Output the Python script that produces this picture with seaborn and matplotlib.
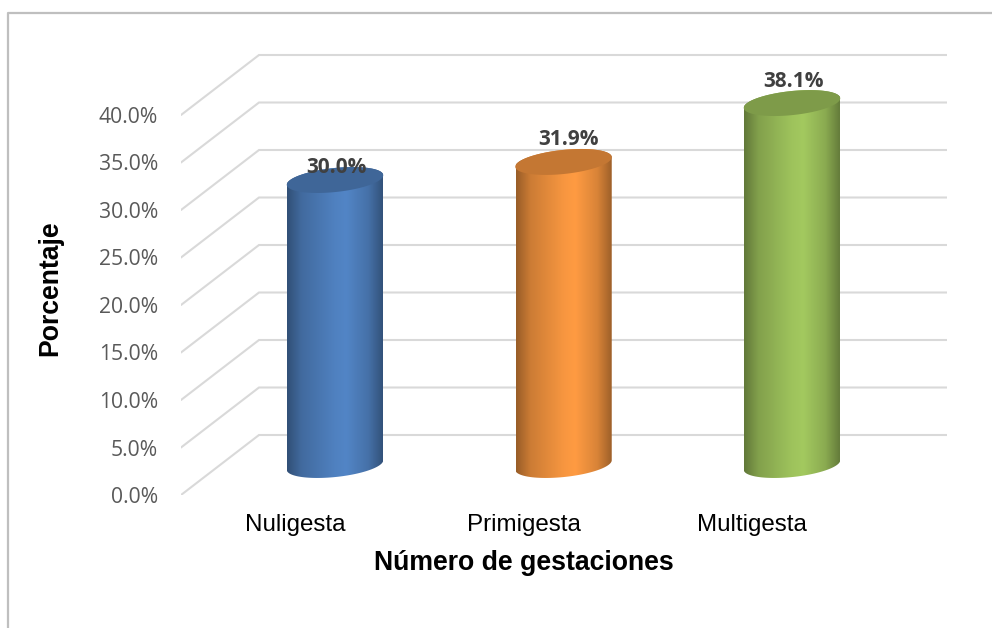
import numpy as np
import pandas as pd
import seaborn as sns
import matplotlib.pyplot as plt
from matplotlib.colors import LinearSegmentedColormap, to_rgb
from matplotlib.lines import Line2D
from matplotlib.patches import PathPatch, Polygon
from matplotlib.path import Path

# data
categorias = ['Nuligesta', 'Primigesta', 'Multigesta']
porcentajes = [30.0, 31.9, 38.1]
etiquetas = ['30.0%', '31.9%', '38.1%']
y_ticks = [0, 5, 10, 15, 20, 25, 30, 35, 40]
colores = ['#5285C6', '#FF9B42', '#A3C95F']

W, H = 992, 628
PX_UNIT_Y = 9.5     # pixels per 1%
PX_UNIT_X = 228.5   # pixels between categories

sns.set_theme(style='white')
fig = plt.figure(figsize=(W / 100, H / 100), dpi=100)
fig.patch.set_facecolor('white')

axes_box = [181 / W, (H - 495) / H, (947 - 181) / W, (495 - 40) / H]
xlim = ((181 - 335) / PX_UNIT_X, (947 - 335) / PX_UNIT_X)

# chart border, only left and top
fig.add_artist(Line2D([7.5 / W, 7.5 / W, 1], [0, 1 - 13 / H, 1 - 13 / H], color='#BFBFBF', lw=1.6))

# walls and grid
ax = fig.add_axes(axes_box)
ax.set_xlim(xlim)
ax.set_ylim(0, (495 - 40) / PX_UNIT_Y)
depth_y = 60 / PX_UNIT_Y
back_x = xlim[0] + 78 / PX_UNIT_X
for v in y_ticks:
    ax.plot([xlim[0], back_x, xlim[1]], [v, v + depth_y, v + depth_y], color='#D9D9D9', lw=1.5,
            solid_joinstyle='miter', zorder=1)
ax.set_yticks(y_ticks)
ax.set_yticklabels([f'{v:.1f}%' for v in y_ticks], family='Open Sans', fontsize=15.2, color='#595959')
ax.set_xticks(np.arange(len(categorias)) - 40 / PX_UNIT_X)
ax.set_xticklabels(categorias, family='Liberation Sans', fontsize=17.4, color='black')
ax.tick_params(axis='y', length=0, pad=16.5)
ax.tick_params(axis='x', length=0, pad=14)
sns.despine(ax=ax, left=True, bottom=True)
ax.set_xlabel('Número de gestaciones', family='Liberation Sans', fontsize=19.2, fontweight='bold', color='black')
ax.xaxis.set_label_coords((524 - 181) / 766, (495 - 563) / 455)
ax.xaxis.label.set_va('center')
ax.set_ylabel('Porcentaje', family='Liberation Sans', fontsize=19.2, fontweight='bold', color='black')
ax.yaxis.set_label_coords((50 - 181) / 766, (495 - 288) / 455)
ax.yaxis.label.set_va('center')

# bars stand in the middle of the floor, 30 px above the front edge
ax_b = fig.add_axes(axes_box)
ax_b.patch.set_alpha(0)
df = pd.DataFrame({'cat': categorias, 'pct': porcentajes})
sns.barplot(data=df, x='cat', y='pct', ax=ax_b, width=96 / PX_UNIT_X, color='#5285C6')
ax_b.axis('off')


def elipse(cx, cy, t):
    # tilted ellipse, sizes in pixels, result in data units
    a, b, tilt = 48.5, 12, np.radians(6)
    dx = a * np.cos(t) * np.cos(tilt) - b * np.sin(t) * np.sin(tilt)
    dy = a * np.cos(t) * np.sin(tilt) + b * np.sin(t) * np.cos(tilt)
    return np.column_stack([cx + dx / PX_UNIT_X, cy + dy / PX_UNIT_Y])


label_off = [(1, 12), (5, 22), (1, 22)]
for bar, color, texto, off in zip(ax_b.patches, colores, etiquetas, label_off):
    bar.set_visible(False)
    cx = bar.get_x() + bar.get_width() / 2
    top = bar.get_height()
    rgb = np.array(to_rgb(color))
    stops = [(0, rgb * .6), (.15, rgb * .8), (.5, rgb * .97), (.62, rgb), (.85, rgb * .85), (1, rgb * .62)]
    cmap = LinearSegmentedColormap.from_list('cil', stops)

    abajo = elipse(cx, 0, np.linspace(np.pi, 2 * np.pi, 60))
    arriba = elipse(cx, top, np.linspace(0, np.pi, 60))
    verts = np.vstack([abajo, arriba, abajo[:1]])
    clip = PathPatch(Path(verts), transform=ax_b.transData, fc='none', ec='none')
    ax_b.add_patch(clip)
    im = ax_b.imshow(np.linspace(0, 1, 200)[None, :], cmap=cmap, aspect='auto', interpolation='bilinear',
                     extent=[bar.get_x(), bar.get_x() + bar.get_width(), -3, top + 3], zorder=2)
    im.set_clip_path(clip)

    tapa = elipse(cx, top, np.linspace(0, 2 * np.pi, 120))
    ax_b.add_patch(Polygon(tapa, closed=True, fc=rgb * .77, ec='none', zorder=3))
    ax_b.annotate(texto, (cx, top), xytext=(off[0] * .72, off[1] * .72), textcoords='offset points',
                  ha='center', va='center', family='Open Sans', fontsize=15, fontweight='bold',
                  color='#404040', zorder=4)

ax_b.set_xlim(xlim)
ax_b.set_ylim(-30 / PX_UNIT_Y, (465 - 40) / PX_UNIT_Y)

fig.savefig('out.png', dpi=100)
